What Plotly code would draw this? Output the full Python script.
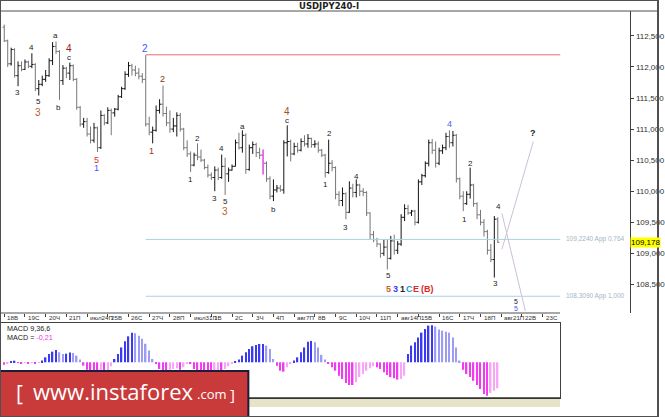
import plotly.graph_objects as go

W, H = 665, 417

# USDJPY H4 bars, 18 Jul - 18 Aug (one bar every 4 hours, 6 per day)
opens = [
    112.64, 112.42, 112.05, 112.28, 111.86, 112.02, 111.96, 112.08, 112.01, 112.04,
    111.65, 111.72, 111.80, 111.86, 112.10, 112.33, 112.25, 111.78, 111.98, 111.90,
    112.02, 111.80, 111.35, 111.08, 111.12, 110.92, 110.82, 111.02, 110.70, 111.22,
    111.10, 111.30, 111.26, 111.32, 111.52, 111.65, 111.88, 112.02, 111.95, 111.90,
    111.85, 111.80, 111.08, 110.95, 110.98, 111.30, 111.40, 111.25, 111.10, 111.00,
    111.05, 111.22, 111.00, 110.70, 110.60, 110.42, 110.58, 110.55, 110.50, 110.38,
    110.26, 110.22, 110.34, 110.22, 110.40, 110.28, 110.34, 110.40, 110.78, 110.70,
    110.90, 110.35, 110.70, 110.75, 110.62, 110.58, 110.45, 110.20, 109.92, 110.02,
    110.05, 110.02, 110.78, 110.80, 110.60, 110.72, 110.66, 110.80, 110.76, 110.85,
    110.75, 110.76, 110.66, 110.58, 110.30, 110.45, 110.38, 109.95, 109.85, 109.96,
    109.66, 110.05, 109.98, 110.10, 110.00, 109.98, 109.65, 109.30, 109.22, 109.15,
    109.00, 109.10, 108.92, 109.20, 109.05, 109.15, 109.58, 109.72, 109.65, 109.68,
    109.50, 110.15, 110.25, 110.45, 110.78, 110.66, 110.45, 110.65, 110.70, 110.88,
    110.78, 110.90, 110.20, 109.92, 109.80, 109.95, 110.10, 109.80, 109.62, 109.50,
    109.35, 109.05, 108.90, 109.55,
]
highs = [
    112.68, 112.44, 112.31, 112.30, 112.09, 112.09, 112.12, 112.10, 112.22, 112.06,
    111.79, 111.86, 111.95, 112.14, 112.40, 112.41, 112.27, 112.03, 112.00, 112.07,
    112.04, 111.82, 111.37, 111.18, 111.18, 111.04, 111.10, 111.04, 111.30, 111.24,
    111.35, 111.33, 111.34, 111.55, 111.68, 111.93, 112.08, 112.05, 112.02, 111.98,
    111.90, 112.19, 111.20, 111.04, 111.38, 111.48, 111.70, 111.36, 111.30, 111.18,
    111.27, 111.26, 111.02, 110.82, 110.64, 110.62, 110.77, 110.67, 110.52, 110.43,
    110.30, 110.40, 110.38, 110.59, 110.54, 110.38, 110.43, 110.83, 110.94, 110.98,
    110.93, 110.75, 110.80, 110.78, 110.70, 110.67, 110.48, 110.24, 110.19, 110.10,
    110.10, 110.82, 111.06, 110.83, 110.78, 110.78, 110.85, 110.90, 110.92, 110.86,
    110.82, 110.80, 110.68, 110.60, 110.83, 110.50, 110.40, 110.00, 110.06, 109.98,
    110.16, 110.12, 110.19, 110.12, 110.05, 110.00, 109.66, 109.36, 109.25, 109.16,
    109.22, 109.23, 109.28, 109.30, 109.20, 109.63, 109.79, 109.78, 109.70, 109.70,
    110.19, 110.28, 110.48, 110.83, 110.84, 110.80, 110.70, 110.75, 110.94, 110.98,
    110.97, 110.92, 110.22, 110.00, 110.00, 110.38, 110.12, 109.82, 109.70, 109.55,
    109.38, 109.15, 109.60, 109.58,
]
lows = [
    112.40, 112.00, 112.02, 111.83, 111.69, 111.93, 111.95, 111.98, 111.98, 111.61,
    111.54, 111.69, 111.76, 111.84, 112.03, 112.21, 111.47, 111.71, 111.82, 111.79,
    111.77, 111.31, 111.04, 111.02, 110.88, 110.77, 110.78, 110.63, 110.68, 111.06,
    111.08, 110.90, 111.20, 111.30, 111.50, 111.63, 111.84, 111.86, 111.85, 111.80,
    111.74, 111.04, 110.90, 110.77, 110.96, 111.25, 111.20, 111.05, 110.94, 110.95,
    110.88, 110.96, 110.66, 110.55, 110.31, 110.40, 110.50, 110.47, 110.35, 110.22,
    110.18, 110.00, 110.18, 110.20, 109.94, 110.15, 110.33, 110.40, 110.67, 110.62,
    110.28, 110.33, 110.60, 110.55, 110.52, 110.27, 110.15, 109.87, 109.84, 109.98,
    109.99, 109.96, 110.56, 110.48, 110.58, 110.62, 110.64, 110.72, 110.70, 110.70,
    110.70, 110.62, 110.55, 110.22, 110.28, 110.32, 109.87, 109.76, 109.76, 109.55,
    109.65, 109.90, 109.90, 109.92, 109.92, 109.60, 109.23, 109.18, 109.10, 108.93,
    108.96, 108.74, 108.90, 108.98, 108.99, 109.12, 109.52, 109.62, 109.60, 109.45,
    109.48, 110.10, 110.22, 110.40, 110.60, 110.38, 110.42, 110.60, 110.66, 110.70,
    110.72, 110.14, 109.87, 109.68, 109.78, 109.88, 109.75, 109.55, 109.45, 109.27,
    108.98, 108.86, 108.61, 109.17,
]
closes = [
    112.42, 112.05, 112.28, 111.86, 112.02, 111.96, 112.08, 112.01, 112.04, 111.65,
    111.72, 111.80, 111.86, 112.10, 112.33, 112.25, 111.78, 111.98, 111.90, 112.02,
    111.80, 111.35, 111.08, 111.12, 110.92, 110.82, 111.02, 110.70, 111.22, 111.10,
    111.30, 111.26, 111.32, 111.52, 111.65, 111.88, 112.02, 111.95, 111.90, 111.85,
    111.80, 111.08, 110.95, 110.98, 111.30, 111.40, 111.25, 111.10, 111.00, 111.05,
    111.22, 111.00, 110.70, 110.60, 110.42, 110.58, 110.55, 110.50, 110.38, 110.26,
    110.22, 110.34, 110.22, 110.40, 110.28, 110.34, 110.40, 110.78, 110.70, 110.90,
    110.35, 110.70, 110.75, 110.62, 110.58, 110.45, 110.20, 109.92, 110.02, 110.05,
    110.02, 110.78, 110.80, 110.60, 110.72, 110.66, 110.80, 110.76, 110.85, 110.75,
    110.76, 110.66, 110.58, 110.30, 110.45, 110.38, 109.95, 109.85, 109.96, 109.66,
    110.05, 109.98, 110.10, 110.00, 109.98, 109.65, 109.30, 109.22, 109.15, 109.00,
    109.10, 108.92, 109.20, 109.05, 109.15, 109.58, 109.72, 109.65, 109.68, 109.50,
    110.15, 110.25, 110.45, 110.78, 110.66, 110.45, 110.65, 110.70, 110.88, 110.78,
    110.90, 110.20, 109.92, 109.80, 109.95, 110.10, 109.80, 109.62, 109.50, 109.35,
    109.05, 108.90, 109.55, 109.178,
]
# MACD(9,36,6) histogram
macd_hist = [
    -0.020, -0.008, 0.005, 0.013, -0.005, -0.008, -0.005, -0.008, -0.005, -0.008,
    -0.003, 0.014, 0.040, 0.068, 0.086, 0.100, 0.081, 0.068, 0.070, 0.080,
    0.075, 0.054, 0.022, -0.027, -0.060, -0.075, -0.080, -0.082, -0.075, -0.075,
    -0.068, -0.032, 0.027, 0.068, 0.120, 0.170, 0.210, 0.240, 0.235, 0.215,
    0.190, 0.150, 0.095, 0.027, -0.014, -0.054, -0.068, -0.068, -0.060, -0.054,
    -0.049, -0.060, -0.040, -0.014, -0.014, -0.054, -0.068, -0.076, -0.076, -0.081,
    -0.081, -0.076, -0.068, -0.068, -0.054, -0.032, -0.014, 0.008, 0.022, 0.054,
    0.081, 0.108, 0.130, 0.140, 0.148, 0.148, 0.135, 0.108, 0.027, -0.027,
    -0.068, -0.076, -0.040, -0.014, 0.014, 0.040, 0.081, 0.120, 0.167, 0.173,
    0.162, 0.120, 0.060, 0.022, -0.014, -0.040, -0.068, -0.108, -0.135, -0.167,
    -0.184, -0.184, -0.162, -0.120, -0.095, -0.068, -0.049, -0.032, -0.040, -0.054,
    -0.081, -0.103, -0.120, -0.130, -0.140, -0.135, -0.108, 0.068, 0.135, 0.162,
    0.200, 0.240, 0.270, 0.297, 0.300, 0.290, 0.265, 0.256, 0.248, 0.240,
    0.200, 0.120, 0.014, -0.060, -0.095, -0.120, -0.150, -0.184, -0.216, -0.256,
    -0.270, -0.248, -0.230, -0.210,
]
day_labels = ["18В", "19С", "20Ч", "21П", "июл24П", "25В", "26С", "27Ч", "28П",
              "июл31П", "1В", "2С", "3Ч", "4П", "авг7П", "8В", "9С", "10Ч", "11П",
              "авг14П", "15В", "16С", "17Ч", "18П", "авг21П", "22В", "23С"]
price_ticks = [108.5, 109.0, 109.5, 110.0, 110.5, 111.0, 111.5, 112.0, 112.5]
last_price = 109.178
marked_bar = 75                      # bar drawn in magenta
level_span = [41, 161.1]             # horizontal levels run from the wave-2 top
resistance = 112.195
fib_levels = [109.224, 108.309]
fib_texts = ["109,2240 App 0,764", "108,3090 App 1,000"]
proj_up_x, proj_up_y = [144.2, 153.3], [109.065, 110.80]
proj_dn_x, proj_dn_y = [144.2, 151.0], [109.643, 108.07]

BLK, BRN, DRD, RED, BLU = "#222222", "#b8602e", "#a01822", "#d83030", "#4a52ff"
waves = [
    (3.9, 111.59, "3", BLK, 8), (7.9, 112.32, "4", BLK, 8), (9.9, 111.44, "5", BLK, 8),
    (9.9, 111.27, "3", BRN, 10), (14.8, 112.50, "a", BLK, 8), (15.8, 111.35, "b", BLK, 8),
    (18.8, 112.30, "4", DRD, 10), (18.8, 112.15, "c", BLK, 8), (40.8, 112.30, "2", BLU, 10),
    (26.7, 110.51, "5", RED, 9), (26.7, 110.37, "1", BLU, 9), (42.8, 110.65, "1", "#a83030", 9),
    (45.9, 111.80, "2", "#7a3a1a", 9), (54.0, 110.19, "1", BLK, 8), (55.9, 110.85, "2", BLK, 8),
    (60.9, 109.89, "3", BLK, 8), (62.9, 110.68, "4", BLK, 8), (64.1, 109.83, "5", BLK, 8),
    (64.1, 109.68, "3", BRN, 10), (69.0, 111.04, "a", BLK, 8), (77.9, 109.70, "b", BLK, 8),
    (81.9, 111.28, "4", "#a0502a", 10), (81.9, 111.14, "c", BLK, 8), (94.1, 110.93, "2", BLK, 8),
    (93.1, 110.10, "1", BLK, 8), (102.2, 110.23, "4", BLK, 8), (99.0, 109.42, "3", BLK, 8),
    (111.2, 108.64, "5", BLK, 8), (129.0, 111.08, "4", "#5a5aff", 9), (135.2, 110.44, "2", BLK, 8),
    (133.3, 109.55, "1", BLK, 8), (143.1, 109.75, "4", BLK, 8), (142.4, 108.51, "3", BLK, 8),
    (148.2, 108.22, "5", BLK, 7), (148.2, 108.12, "5", BLU, 7),
]
wave_row = [(111.2, "5", "#c8603a"), (113.3, "3", "#3a3aff"), (115.4, "1", BLK),
            (117.3, "C", "#1e9be0"), (119.4, "E", "#e02828"), (122.5, "(B)", "#e02828")]
wave_row_price = 108.43


def py(p):
    return 1 - p / H


bars = list(range(len(closes)))
fig = go.Figure()

fig.add_trace(go.Ohlc(
    x=bars, open=opens, high=highs, low=lows, close=closes,
    increasing=dict(line=dict(color="#141414", width=1)),
    decreasing=dict(line=dict(color="#767676", width=1)),
    tickwidth=0.5, hoverinfo="skip", showlegend=False, xaxis="x", yaxis="y"))
only = lambda arr: [v if i == marked_bar else None for i, v in enumerate(arr)]
fig.add_trace(go.Ohlc(
    x=bars, open=only(opens), high=only(highs), low=only(lows), close=only(closes),
    increasing=dict(line=dict(color="#ff4cff", width=1.2)),
    decreasing=dict(line=dict(color="#ff4cff", width=1.2)),
    tickwidth=0.5, hoverinfo="skip", showlegend=False, xaxis="x", yaxis="y"))

# horizontal levels
fig.add_trace(go.Scatter(x=level_span, y=[resistance] * 2, mode="lines",
                         line=dict(color="#e86a6a", width=1), hoverinfo="skip", showlegend=False))
for lv in fib_levels:
    fig.add_trace(go.Scatter(x=level_span, y=[lv] * 2, mode="lines",
                             line=dict(color="#a9d3e3", width=1), hoverinfo="skip", showlegend=False))
# projection lines
for xs, ys in ((proj_up_x, proj_up_y), (proj_dn_x, proj_dn_y)):
    fig.add_trace(go.Scatter(x=xs, y=ys, mode="lines", line=dict(color="#cdbfd6", width=1),
                             hoverinfo="skip", showlegend=False))

# MACD histogram
colors = []
for i, v in enumerate(macd_hist):
    prev = macd_hist[i - 1] if i else 0
    if v >= 0:
        colors.append("#3a3af2" if v >= prev else "#9c9cf4")
    else:
        colors.append("#f23af2" if v <= prev else "#f7a6f7")
fig.add_trace(go.Bar(x=bars, y=macd_hist, marker=dict(color=colors, line=dict(width=0)),
                     width=0.42, xaxis="x2", yaxis="y2", hoverinfo="skip", showlegend=False))

ann = []
font = "Liberation Sans"


def paper_text(txt, x, y, size, color, family=font, xanchor="left"):
    ann.append(dict(text=txt, x=x / W, y=py(y), xref="paper", yref="paper",
                    xanchor=xanchor, yanchor="middle", showarrow=False,
                    font=dict(size=size, color=color, family=family)))


paper_text("<b>USDJPY240-I</b>", 333, 6, 8.5, "#202020", "DejaVu Sans", "center")
for k, lab in enumerate(day_labels):
    ann.append(dict(text=lab, x=6 * k, y=py(317.5), xref="x", yref="paper", xanchor="left",
                    yanchor="middle", xshift=1, showarrow=False,
                    font=dict(size=6.2, color="#303030", family=font)))
paper_text("MACD 9,36,6", 5, 328.5, 7.2, "#202020")
paper_text("MACD = <span style='color:#f030f0'>-0,21</span>", 5, 337, 7.2, "#202020")
for lv, txt in zip(fib_levels, fib_texts):
    ann.append(dict(text=txt, x=level_span[1], y=lv, xref="x", yref="y", xanchor="left",
                    xshift=4, showarrow=False, font=dict(size=6.5, color="#9fb6c4", family=font)))
for bx, pr, txt, col, sz in waves:
    ann.append(dict(text=txt, x=bx, y=pr, xref="x", yref="y", showarrow=False,
                    font=dict(size=sz, color=col, family=font)))
for bx, txt, col in wave_row:
    ann.append(dict(text="<b>" + txt + "</b>", x=bx, y=wave_row_price, xref="x", yref="y",
                    showarrow=False, font=dict(size=9, color=col, family=font)))
ann.append(dict(text="<b>?</b>", x=proj_up_x[1], y=110.94, xref="x", yref="y",
                showarrow=False, font=dict(size=9, color="#202020", family=font)))
ann.append(dict(text="109,178", x=637 / W, y=last_price, xref="paper", yref="y",
                xanchor="left", showarrow=False, bgcolor="#ffff00", borderpad=0,
                font=dict(size=8, color="#000000", family=font)))
# banner
paper_text("[", 14, 393, 21, "white", "Open Sans")
paper_text("www.instaforex", 31, 391, 22, "white", "Open Sans")
paper_text(".com", 197, 394, 13, "white", "Open Sans")
paper_text("]", 230, 394, 15, "white", "Open Sans")

shapes = [
    dict(type="line", xref="paper", yref="paper", x0=0, x1=1, y0=py(11), y1=py(11),
         line=dict(color="#505050", width=1)),
    dict(type="line", xref="paper", yref="paper", x0=0, x1=566 / W, y0=py(313), y1=py(313),
         line=dict(color="#505050", width=1)),
    dict(type="rect", xref="paper", yref="paper", x0=0, x1=566 / W, y0=py(407), y1=py(398),
         fillcolor="#e7e3c9", line=dict(width=0), layer="below"),
    dict(type="line", xref="paper", yref="paper", x0=0, x1=566 / W, y0=py(398), y1=py(398),
         line=dict(color="#303030", width=1.5)),
    dict(type="rect", xref="paper", yref="paper", x0=0, x1=251 / W, y0=0, y1=py(371),
         fillcolor="#c93a3b", line=dict(color="#1d1d3a", width=2), layer="above"),
    dict(type="rect", xref="paper", yref="paper", x0=0, x1=1, y0=0, y1=1,
         line=dict(color="#505050", width=2)),
]

fig.update_layout(
    width=W, height=H, margin=dict(l=0, r=0, t=0, b=0),
    paper_bgcolor="white", plot_bgcolor="white", separators=",.",
    showlegend=False, annotations=ann, shapes=shapes,
    xaxis=dict(domain=[2 / W, 637 / W], range=[-0.66, 181.4], anchor="y",
               showgrid=False, zeroline=False, showline=False,
               tickvals=[6 * k for k in range(len(day_labels))], ticks="outside",
               ticklen=3, tickcolor="#404040", showticklabels=False,
               rangeslider=dict(visible=False)),
    yaxis=dict(domain=[py(313), py(11)], range=[108.04, 112.90], anchor="x", side="right",
               showgrid=False, zeroline=False, showline=True, linecolor="#404040",
               tickvals=price_ticks, tickformat=".3f", ticks="outside", ticklen=3,
               tickcolor="#404040", tickfont=dict(size=8, color="#303030", family=font)),
    xaxis2=dict(domain=[0, 566 / W], range=[-1.23, 161.1], anchor="y2",
                showgrid=False, zeroline=False, showline=True, mirror=True,
                linecolor="#404040", showticklabels=False, ticks=""),
    yaxis2=dict(domain=[py(398), py(323)], range=[-0.289, 0.318], anchor="x2",
                showgrid=False, zeroline=False, showline=True, mirror=True,
                linecolor="#404040", showticklabels=False, ticks=""),
)

# the page body has a default margin; remove it so the figure fills the window
fig.write_html("out.html", config={"displayModeBar": False},
               post_script="document.body.style.margin='0';")
